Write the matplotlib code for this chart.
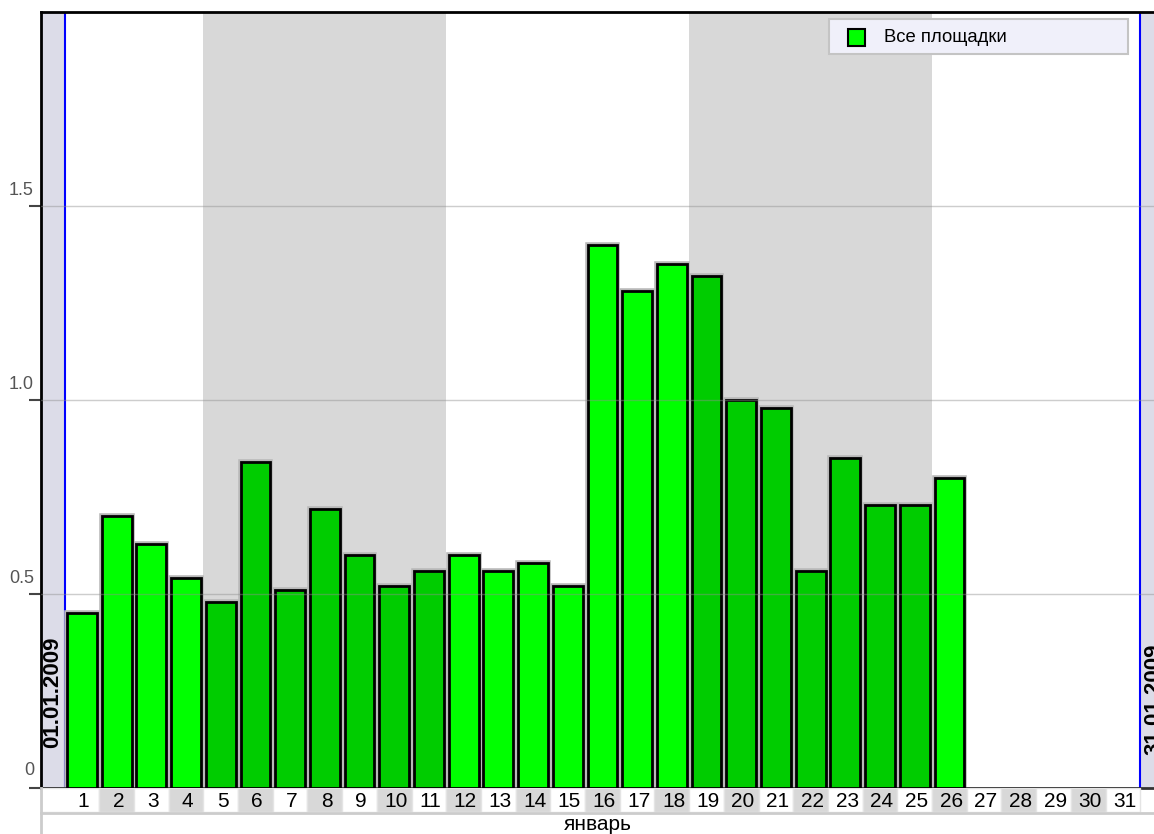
import matplotlib
matplotlib.use("Agg")
import matplotlib.pyplot as plt
from matplotlib.patches import Rectangle
from matplotlib.transforms import blended_transform_factory, offset_copy

plt.rcParams['font.family'] = ['Liberation Sans', 'DejaVu Sans']

# ---- data ----
days = list(range(1, 32))
values = [0.45, 0.70, 0.63, 0.54, 0.48, 0.84, 0.51, 0.72, 0.60, 0.52, 0.56,
          0.60, 0.56, 0.58, 0.52, 1.40, 1.28, 1.35, 1.32, 1.00, 0.98, 0.56,
          0.85, 0.73, 0.73, 0.80]
shaded_weeks = [(5, 11), (19, 25)]
y_ticks = [0, 0.5, 1.0, 1.5]
y_tick_labels = ["0", "0.5", "1.0", "1.5"]
month_label = "январь"
start_label = "01.01.2009"
end_label = "31.01.2009"
series_name = "Все площадки"

W, H = 1154, 834
def fx(x): return x / W
def fy(y): return 1 - y / H

fig = plt.figure(figsize=(W / 100, H / 100), dpi=100)
fig.patch.set_facecolor("white")

xl, xr = 0.5 - (64.6 - 41) / 34.70, 31.5 + (1154 - 1140.3) / 34.70

ax = fig.add_axes([fx(41), fy(788), 1 - fx(41), fy(12) - fy(788)])
ax.set_xlim(xl, xr)
ax.set_ylim(0, 2.0)
ax.set_facecolor("white")

# bands
ax.axvspan(xl, 0.5, color="#dcdce8", zorder=0, lw=0)
ax.axvspan(31.5, xr, color="#dcdce8", zorder=0, lw=0)
for a, b in shaded_weeks:
    ax.axvspan(a - 0.5, b + 0.5, color="#d8d8d8", zorder=0, lw=0)
ax.axvline(0.5, color="#0000ff", lw=1.5, zorder=1)
ax.axvline(31.5, color="#0000ff", lw=1.5, zorder=1)

def is_shaded(d):
    return any(a <= d <= b for a, b in shaded_weeks)

bar_days = days[:len(values)]
colors = ["#00cc00" if is_shaded(d) else "#00ff00" for d in bar_days]
ax.bar(bar_days, values, width=0.86, color="none", edgecolor="#b8b8b8", lw=4, zorder=2)
ax.bar(bar_days, values, width=0.86, color=colors, edgecolor="black", lw=2, zorder=3)

# grid lines
for t in y_ticks[1:]:
    ax.axhline(t, color="#909090", lw=1, alpha=0.45, zorder=4)

# spines
ax.spines["right"].set_visible(False)
ax.spines["top"].set_linewidth(2)
ax.spines["left"].set_linewidth(2)
ax.spines["bottom"].set_linewidth(2)
ax.spines["bottom"].set_color("#333333")
ax.set_xticks([])
ax.set_yticks(y_ticks)
ax.set_yticklabels([])
ax.tick_params(axis="y", length=9, width=1.5, color="#444444")

trans = blended_transform_factory(ax.transAxes, ax.transData)
for t, lab in zip(y_ticks, y_tick_labels):
    ax.text(-7 / (W - 41), t, lab,
            transform=offset_copy(trans, fig=fig, x=0, y=(7 if t else 9), units="dots"),
            ha="right", va="bottom", fontsize=13, color="#555555")

# date labels
ax.text(0.5 - (64.6 - 53) / 34.70, 0, start_label,
        transform=offset_copy(ax.transData, fig=fig, x=0, y=40, units="dots"),
        rotation=90, ha="center", va="bottom", fontsize=16, fontweight="bold", color="black")
ax.text(31.5 + (1143 - 1140.3) / 34.70, 0, end_label,
        transform=offset_copy(ax.transData, fig=fig, x=0, y=33, units="dots"),
        rotation=90, ha="left", va="bottom", fontsize=16, fontweight="bold", color="black")

# tick cell row
axc = fig.add_axes([fx(41), fy(812), 1 - fx(41), fy(788) - fy(812)])
axc.set_xlim(xl, xr)
axc.set_ylim(0, 1)
axc.axis("off")
for d in days:
    left = xl if d == 1 else d - 0.5
    right = d + 0.5
    col = "white" if d % 2 == 1 else "#d8d8d8"
    axc.add_patch(Rectangle((left, 0), right - left, 1, facecolor=col, edgecolor="#e4e4e4", lw=1))
    axc.text(d + 0.05, 0.45, str(d), ha="center", va="center", fontsize=15, color="black")

# month row
axm = fig.add_axes([fx(41), 0, 1 - fx(41), fy(812)])
axm.set_xlim(xl, xr)
axm.set_ylim(0, 1)
axm.axis("off")
axm.text((xl + xr) / 2, 0.42, month_label, ha="center", va="center", fontsize=15, color="black")

# borders
fig.add_artist(plt.Line2D([fx(41), 1], [fy(813), fy(813)], color="#cccccc", lw=2))
fig.add_artist(plt.Line2D([fx(41), fx(41)], [fy(788), 0], color="#cccccc", lw=2))

# legend
fig.add_artist(Rectangle((fx(829), fy(54)), fx(1128) - fx(829), fy(19) - fy(54), transform=fig.transFigure,
                         facecolor="#f0f0fa", edgecolor="#c4c4c4", lw=1.5, zorder=10))
fig.add_artist(Rectangle((fx(848), fy(46)), fx(865) - fx(848), fy(29) - fy(46), transform=fig.transFigure,
                         facecolor="#00ff00", edgecolor="black", lw=1.5, zorder=11))
fig.text(fx(884), fy(37), series_name, ha="left", va="center", fontsize=13.3, color="black", zorder=12)

fig.savefig("out.png", dpi=100)
